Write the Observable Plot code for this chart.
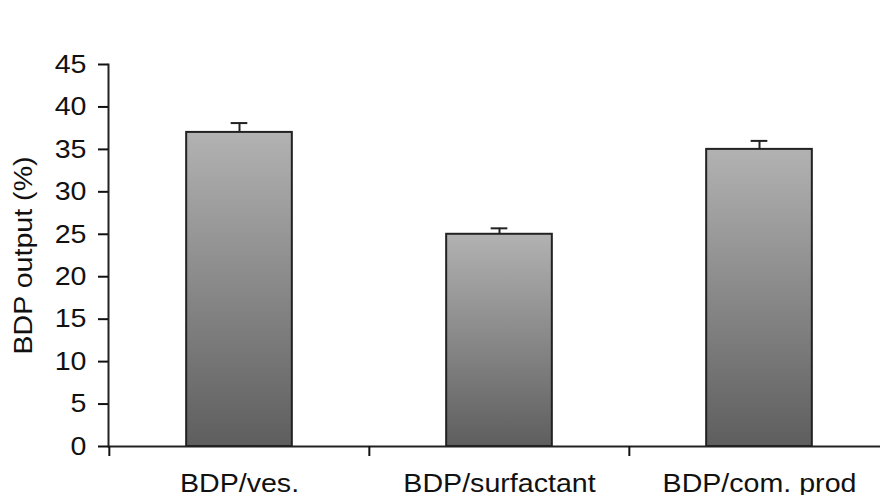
<!DOCTYPE html>
<html>
<head>
<meta charset="utf-8">
<script src="https://cdn.jsdelivr.net/npm/d3@7"></script>
<script src="https://cdn.jsdelivr.net/npm/@observablehq/plot@0.6"></script>
<style>
  html, body { margin: 0; padding: 0; background: #fff; }
  #chart svg { display: block; }
</style>
</head>
<body>
<div id="chart"></div>
<script>
const categories = ["BDP/ves.", "BDP/surfactant", "BDP/com. prod"];
const outputs = [37, 25, 35];
const errors = [1.1, 0.7, 1.0];
const yTicks = [0, 5, 10, 15, 20, 25, 30, 35, 40, 45];

const data = categories.map((c, i) => ({cat: c, value: outputs[i], err: errors[i]}));

const W = 880, H = 495;
const xRange = [108, 889];
const step = (xRange[1] - xRange[0]) / categories.length;
const barW = 106;
const capW = 17;
const font = "'Liberation Sans', Arial, sans-serif";

const gradientDefs = () => {
  const defs = d3.create("svg:defs");
  const g = defs.append("linearGradient")
    .attr("id", "barGrad")
    .attr("x1", 0).attr("y1", 0).attr("x2", 0).attr("y2", 1);
  g.append("stop").attr("offset", "0%").attr("stop-color", "#b2b2b2");
  g.append("stop").attr("offset", "100%").attr("stop-color", "#5e5e5e");
  return defs.node();
};

const chart = Plot.plot({
  width: W,
  height: H,
  marginTop: 64,
  marginBottom: 49,
  marginLeft: 108,
  marginRight: 0,
  style: {fontFamily: font, fontSize: "26px", color: "#111", background: "#fff", overflow: "hidden"},
  x: {type: "band", domain: categories, range: xRange, padding: 0},
  y: {domain: [0, 45], ticks: yTicks},
  marks: [
    gradientDefs,
    Plot.barY(data, {
      x: "cat", y: "value",
      fill: "url(#barGrad)", stroke: "#222", strokeWidth: 2,
      insetLeft: (step - barW) / 2, insetRight: (step - barW) / 2
    }),
    Plot.ruleX(data, {x: "cat", y1: "value", y2: d => d.value + d.err, stroke: "#222", strokeWidth: 2}),
    Plot.tickY(data, {
      x: "cat", y: d => d.value + d.err, stroke: "#222", strokeWidth: 2,
      insetLeft: (step - capW) / 2, insetRight: (step - capW) / 2
    }),
    Plot.ruleY([0], {stroke: "#222", strokeWidth: 2}),
    Plot.frame({anchor: "left", stroke: "#222", strokeWidth: 2}),
    Plot.axisY({
      ticks: yTicks, tickSize: 10, tickPadding: 12, strokeWidth: 2,
      label: "BDP output (%)", labelAnchor: "center", labelArrow: "none", labelOffset: 95
    }),
    Plot.axisX({tickSize: 10, strokeWidth: 2, dx: -step / 2, tickFormat: null, label: null}),
    Plot.axisX({tickSize: 0, tickPadding: 27, label: null})
  ]
});

document.getElementById("chart").appendChild(chart);

// widen glyphs to match the reference's broad lettering
chart.querySelectorAll("text").forEach(t => {
  const len = t.getComputedTextLength();
  if (len > 0) {
    t.setAttribute("textLength", (len * 1.1).toFixed(1));
    t.setAttribute("lengthAdjust", "spacingAndGlyphs");
  }
});
</script>
</body>
</html>
